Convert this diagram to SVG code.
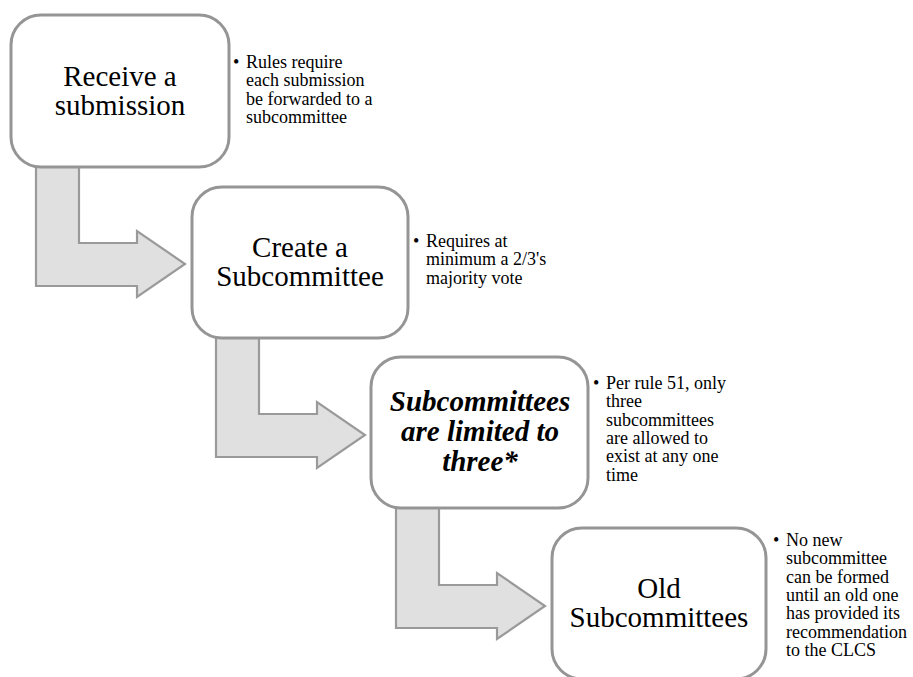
<svg xmlns="http://www.w3.org/2000/svg" width="913" height="677" viewBox="0 0 913 677">
<style>
.box{fill:#ffffff;stroke:#959595;stroke-width:3}
.arr{fill:#e0e0e0;stroke:#9a9a9a;stroke-width:2.2;stroke-linejoin:miter}
.t{font-family:"Liberation Serif","Times New Roman",serif;font-size:29px;fill:#000;text-anchor:middle}
.bi{font-weight:bold;font-style:italic}
.b{font-family:"Liberation Serif","Times New Roman",serif;font-size:18px;fill:#000}
</style>
<rect width="913" height="677" fill="#ffffff"/>
<g id="connectors">
<path class="arr" d="M36,160 V286 H137 V297 L185,264 L137,231 V243 H79 V160 Z"/>
<path class="arr" d="M216,331 V457 H317 V468 L365,435 L317,402 V414 H259 V331 Z"/>
<path class="arr" d="M396,502 V628 H497 V639 L545,606 L497,573 V585 H439 V502 Z"/>
</g>
<g id="node1">
<rect class="box" x="11" y="15" width="218" height="152" rx="30"/>
<text class="t" x="120" y="86">Receive a</text>
<text class="t" x="120" y="115">submission</text>
<text class="b" x="233" y="68">•</text>
<text class="b" x="246" y="68">Rules require</text>
<text class="b" x="246" y="86.3">each submission</text>
<text class="b" x="246" y="104.6">be forwarded to a</text>
<text class="b" x="246" y="122.9">subcommittee</text>
</g>
<g id="node2">
<rect class="box" x="192" y="187" width="216" height="151" rx="30"/>
<text class="t" x="300" y="257">Create a</text>
<text class="t" x="300" y="286">Subcommittee</text>
<text class="b" x="413" y="247">•</text>
<text class="b" x="426" y="247">Requires at</text>
<text class="b" x="426" y="265.3">minimum a 2/3's</text>
<text class="b" x="426" y="283.6">majority vote</text>
</g>
<g id="node3">
<rect class="box" x="371" y="357" width="217" height="151" rx="30"/>
<text class="t bi" x="480" y="411">Subcommittees</text>
<text class="t bi" x="480" y="441">are limited to</text>
<text class="t bi" x="480" y="471">three*</text>
<text class="b" x="593" y="389">•</text>
<text class="b" x="606" y="389">Per rule 51, only</text>
<text class="b" x="606" y="407.3">three</text>
<text class="b" x="606" y="425.6">subcommittees</text>
<text class="b" x="606" y="443.9">are allowed to</text>
<text class="b" x="606" y="462.2">exist at any one</text>
<text class="b" x="606" y="480.5">time</text>
</g>
<g id="node4">
<rect class="box" x="552" y="528" width="214" height="151" rx="30"/>
<text class="t" x="659" y="598">Old</text>
<text class="t" x="659" y="627">Subcommittees</text>
<text class="b" x="773" y="546">•</text>
<text class="b" x="786" y="546">No new</text>
<text class="b" x="786" y="564.3">subcommittee</text>
<text class="b" x="786" y="582.6">can be formed</text>
<text class="b" x="786" y="600.9">until an old one</text>
<text class="b" x="786" y="619.2">has provided its</text>
<text class="b" x="786" y="637.5">recommendation</text>
<text class="b" x="786" y="655.8">to the CLCS</text>
</g>
</svg>
